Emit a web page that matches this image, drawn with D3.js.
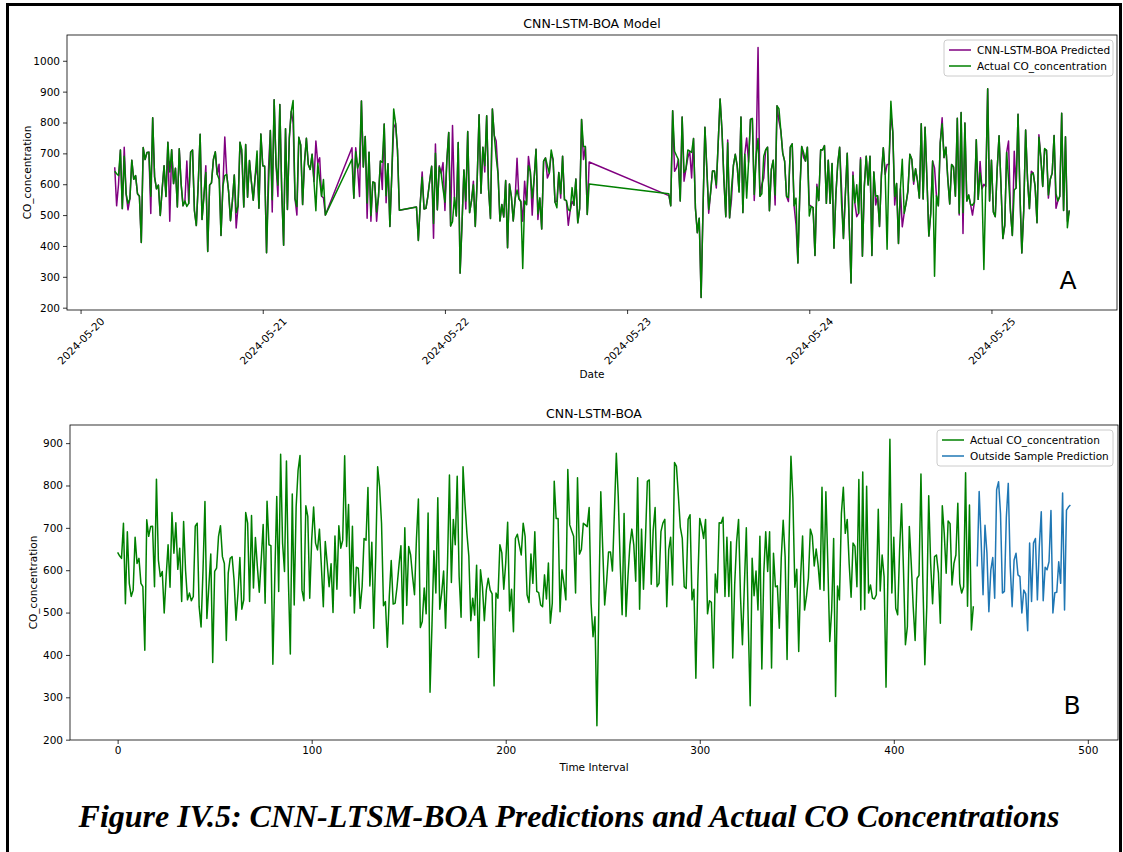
<!DOCTYPE html>
<html>
<head>
<meta charset="utf-8">
<script src="https://cdn.jsdelivr.net/npm/d3@7"></script>
<style>
  body { margin: 0; background: #fff; }
  text { font-family: "DejaVu Sans", sans-serif; fill: #000; }
</style>
</head>
<body>
<script>
// measured CO concentration (one value every 15 minutes)
const actualCO = [
  642,634,628,711,521,691,569,538,553,678, 616,628,569,561,411,719,680,703,704,561,
  815,624,585,597,499,585,660,560,736,640, 712,602,652,526,715,600,530,546,528,538,
  704,711,514,466,600,762,486,561,638,382, 597,605,680,705,632,616,434,593,628,632,577,
  482,545,630,508,530,736,711,526,729,558, 677,609,548,624,708,522,763,660,658,378,
  585,774,550,874,664,597,858,577,402,780, 518,750,836,871,553,528,752,727,534,671,
  749,664,648,697,609,514,668,616,561,615, 500,681,555,705,652,671,870,656,755,539,704,499,
  607,605,510,561,675,671,795,563,666,463, 632,844,797,711,516,526,418,538,623,520,
  522,561,612,658,473,700,517,656,636,585, 542,675,768,465,479,558,497,735,312,471,
  646,546,771,508,546,598,463,616,825,571, 720,660,822,585,489,844,758,687,633,481,534,494,
  612,394,601,561,481,553,581,553,544,327, 546,534,660,641,555,617,713,504,555,455,
  675,685,660,636,711,680,542,524,638,569, 691,550,547,518,514,589,532,617,475,522,
  810,722,722,502,601,569,530,838,707,693, 680,546,818,638,649,711,707,703,748,522,443,490,
  233,520,785,651,518,573,643,643,598,734, 876,774,616,495,734,491,585,660,697,660,
  574,818,508,697,555,671,810,813,567,695, 748,561,569,691,711,720,514,648,678,565,
  854,845,774,701,675,561,557,720,731,530, 555,345,571,722,703,675,720,497,528,524,369,
  591,547,712,711,725,538,678,538,667,393, 565,667,720,538,424,565,700,475,280,628,
  540,598,506,680,367,593,691,597,691,369, 640,561,563,463,628,718,632,389,664,869,
  770,560,602,408,585,681,506,538,581,697, 681,610,650,612,555,796,552,785,616,432,506,675,302,
  563,530,734,796,687,720,616,536,664,656, 561,814,506,832,508,798,546,565,534,532,
  542,744,551,636,585,324,593,909,546,678, 510,495,648,757,600,424,467,703,616,514,
  434,581,588,827,569,377,514,776,616,521, 632,636,593,475,752,687,593,716,710,565,616,636,758,
  569,546,561,830,515,754,459,515
];

// CNN-LSTM-BOA in-sample predictions
const predictedCO = [
  655,530,600,711,521,720,569,517,553,678, 616,628,569,561,411,719,680,703,704,505,
  815,624,585,597,499,585,660,560,736,480, 712,602,652,526,715,600,530,546,675,538,
  704,711,514,466,600,762,486,561,660,382, 597,605,680,705,632,665,434,593,753,632,577,
  482,545,630,458,530,736,690,526,729,558, 677,609,548,624,665,522,763,660,658,378,
  645,774,510,874,664,560,858,577,402,780, 518,750,836,800,553,500,752,727,534,671,
  749,664,648,697,609,740,668,686,561,556, 500,718,555,718,652,560,870,656,755,490,704,480,
  607,605,480,561,675,583,795,540,666,463, 632,782,797,711,516,526,418,538,640,520,
  522,561,612,658,425,730,517,660,636,670, 515,675,768,465,790,558,497,735,312,471,
  646,520,771,508,546,610,463,616,825,571, 720,640,822,585,489,844,758,740,633,481,534,494,
  612,394,601,561,481,553,684,553,544,480, 610,534,690,641,500,617,713,486,555,455,
  675,685,620,636,698,680,542,545,638,555, 691,550,547,467,514,545,532,617,475,522,
  810,680,722,502,672,563,530,838,642,653, 680,546,818,610,649,686,707,620,748,522,443,490,
  233,520,785,651,506,573,643,643,588,734, 876,774,616,495,743,491,550,660,697,660,
  577,818,508,697,750,671,810,813,547,695, 1043,561,600,620,711,720,514,648,678,533,
  854,805,774,701,675,561,544,720,731,530, 469,345,571,722,686,675,720,533,528,524,369,
  600,547,712,711,725,538,678,538,667,393, 565,667,720,588,424,565,700,475,280,640,
  540,495,506,686,367,593,691,600,691,369, 640,533,563,463,628,718,632,664,664,827,
  770,533,602,408,585,462,506,538,577,697, 681,600,650,612,555,796,552,785,616,432,506,675,653,
  563,530,734,815,686,720,616,536,664,656, 561,814,500,832,440,798,546,565,534,500,
  542,744,551,674,585,600,593,909,546,678, 510,495,648,757,600,424,467,703,740,514,
  434,707,588,827,569,377,514,776,616,521, 642,636,593,475,760,687,593,713,710,555,616,636,758,
  522,546,561,830,515,754,480,515
];

// out-of-sample forecast (continues after the last measured interval)
const outsidePrediction = [
  609,786,671,542,706,641,502,600,630,534, 790,809,734,546,550,725,805,609,514,624,
  640,589,585,499,553,544,457,664,526,664, 675,530,656,738,528,607,601,620,741,499,
  547,548,620,569,782,506,742,749,754
];
const forecastStart = 443;

// continuous runs of 15-minute samples (gaps between them have no data)
const segmentStarts = ["2024-05-20T04:30", "2024-05-21T11:45", "2024-05-21T20:15", "2024-05-23T05:30"];
const segmentLengths = [112, 26, 92, 212];

const dateTicks = ["2024-05-20", "2024-05-21", "2024-05-22", "2024-05-23", "2024-05-24", "2024-05-25"];
const yTicksTop = [200, 300, 400, 500, 600, 700, 800, 900, 1000];
const yTicksBottom = [200, 300, 400, 500, 600, 700, 800, 900];
const xTicksBottom = [0, 100, 200, 300, 400, 500];

const smallFont = "10.5px";

function padded(ext) {
  const p = (ext[1] - ext[0]) * 0.05;
  return [ext[0] - p, ext[1] + p];
}

function drawLegend(g, x, y, w, items) {
  g.append("rect")
    .attr("x", x).attr("y", y)
    .attr("width", w).attr("height", 36)
    .attr("rx", 3)
    .attr("fill", "white").attr("fill-opacity", 0.8)
    .attr("stroke", "#cccccc");
  items.forEach((it, i) => {
    const yy = y + 10 + i * 16;
    g.append("line")
      .attr("x1", x + 5).attr("x2", x + 27)
      .attr("y1", yy).attr("y2", yy)
      .attr("stroke", it.color).attr("stroke-width", 1.5);
    g.append("text")
      .attr("x", x + 33).attr("y", yy)
      .attr("dy", "0.35em")
      .style("font-size", smallFont)
      .text(it.label);
  });
}

function drawCharts() {
  const svg = d3.select("body").append("svg")
    .attr("width", 1123)
    .attr("height", 852);

  svg.append("rect").attr("width", 1123).attr("height", 852).attr("fill", "white");

  // page frame
  svg.append("path")
    .attr("d", "M7.5,852 V4.5 H1120.5 V852")
    .attr("fill", "none")
    .attr("stroke", "black")
    .attr("stroke-width", 3);

  // ---------- A: CNN-LSTM-BOA Model vs date ----------
  const A = { left: 67, right: 1117, top: 35, bottom: 310 };

  const times = [];
  segmentStarts.forEach((s, k) => {
    const t0 = new Date(s + ":00Z");
    for (let i = 0; i < segmentLengths[k]; i++) times.push(new Date(t0.getTime() + i * 15 * 60000));
  });

  const tExt = padded([times[0].getTime(), times[times.length - 1].getTime()]);
  const xTime = d3.scaleUtc()
    .domain([new Date(tExt[0]), new Date(tExt[1])])
    .range([A.left, A.right]);

  const allTop = actualCO.concat(predictedCO);
  const yTop = d3.scaleLinear()
    .domain(padded([d3.min(allTop), d3.max(allTop)]))
    .range([A.bottom, A.top]);

  const gA = svg.append("g");

  const lineTime = d3.line()
    .x((d, i) => xTime(times[i]))
    .y(d => yTop(d));

  gA.append("path")
    .datum(predictedCO)
    .attr("d", lineTime)
    .attr("fill", "none")
    .attr("stroke", "purple")
    .attr("stroke-width", 1.5)
    .attr("stroke-linejoin", "round");

  gA.append("path")
    .datum(actualCO)
    .attr("d", lineTime)
    .attr("fill", "none")
    .attr("stroke", "green")
    .attr("stroke-width", 1.5)
    .attr("stroke-linejoin", "round");

  const xAxisA = gA.append("g")
    .attr("transform", `translate(0,${A.bottom})`)
    .call(d3.axisBottom(xTime)
      .tickValues(dateTicks.map(s => new Date(s + "T00:00:00Z")))
      .tickFormat(d3.utcFormat("%Y-%m-%d"))
      .tickSizeOuter(0).tickSize(4));
  xAxisA.selectAll("text")
    .style("font-size", smallFont)
    .attr("text-anchor", "middle")
    .attr("dy", "0.35em")
    .attr("y", 0)
    .attr("transform", "translate(0,31) rotate(-45)");

  gA.append("g")
    .attr("transform", `translate(${A.left},0)`)
    .call(d3.axisLeft(yTop).tickValues(yTicksTop).tickFormat(d3.format("d")).tickSizeOuter(0).tickSize(4))
    .selectAll("text").style("font-size", smallFont);

  gA.selectAll(".domain").remove();
  gA.selectAll(".tick line").attr("stroke", "black").attr("stroke-width", 0.8);

  gA.append("rect")
    .attr("x", A.left).attr("y", A.top)
    .attr("width", A.right - A.left).attr("height", A.bottom - A.top)
    .attr("fill", "none").attr("stroke", "black").attr("stroke-width", 0.8);

  gA.append("text")
    .attr("x", (A.left + A.right) / 2).attr("y", A.top - 7)
    .attr("text-anchor", "middle")
    .style("font-size", "12.5px")
    .text("CNN-LSTM-BOA Model");

  gA.append("text")
    .attr("x", (A.left + A.right) / 2).attr("y", 378)
    .attr("text-anchor", "middle")
    .style("font-size", smallFont)
    .text("Date");

  gA.append("text")
    .attr("transform", `translate(31,${(A.top + A.bottom) / 2}) rotate(-90)`)
    .attr("text-anchor", "middle")
    .style("font-size", smallFont)
    .text("CO_concentration");

  drawLegend(gA, 944, 40, 169, [
    { label: "CNN-LSTM-BOA Predicted", color: "purple" },
    { label: "Actual CO_concentration", color: "green" }
  ]);

  gA.append("text")
    .attr("x", 1068).attr("y", 289)
    .attr("text-anchor", "middle")
    .style("font-size", "25px")
    .text("A");

  // ---------- B: CNN-LSTM-BOA vs time interval ----------
  const B = { left: 70, right: 1118, top: 425, bottom: 740 };
  const lastIndex = forecastStart + outsidePrediction.length - 1;

  const xIdx = d3.scaleLinear()
    .domain(padded([0, lastIndex]))
    .range([B.left, B.right]);

  const allBot = actualCO.concat(outsidePrediction);
  const yBot = d3.scaleLinear()
    .domain(padded([d3.min(allBot), d3.max(allBot)]))
    .range([B.bottom, B.top]);

  const gB = svg.append("g");

  gB.append("path")
    .datum(actualCO)
    .attr("d", d3.line().x((d, i) => xIdx(i)).y(d => yBot(d)))
    .attr("fill", "none")
    .attr("stroke", "green")
    .attr("stroke-width", 1.5)
    .attr("stroke-linejoin", "round");

  gB.append("path")
    .datum(outsidePrediction)
    .attr("d", d3.line().x((d, i) => xIdx(forecastStart + i)).y(d => yBot(d)))
    .attr("fill", "none")
    .attr("stroke", "#1f77b4")
    .attr("stroke-width", 1.5)
    .attr("stroke-linejoin", "round");

  gB.append("g")
    .attr("transform", `translate(0,${B.bottom})`)
    .call(d3.axisBottom(xIdx).tickValues(xTicksBottom).tickSizeOuter(0).tickSize(4))
    .selectAll("text").style("font-size", smallFont);

  gB.append("g")
    .attr("transform", `translate(${B.left},0)`)
    .call(d3.axisLeft(yBot).tickValues(yTicksBottom).tickSizeOuter(0).tickSize(4))
    .selectAll("text").style("font-size", smallFont);

  gB.selectAll(".domain").remove();
  gB.selectAll(".tick line").attr("stroke", "black").attr("stroke-width", 0.8);

  gB.append("rect")
    .attr("x", B.left).attr("y", B.top)
    .attr("width", B.right - B.left).attr("height", B.bottom - B.top)
    .attr("fill", "none").attr("stroke", "black").attr("stroke-width", 0.8);

  gB.append("text")
    .attr("x", (B.left + B.right) / 2).attr("y", B.top - 7)
    .attr("text-anchor", "middle")
    .style("font-size", "12.5px")
    .text("CNN-LSTM-BOA");

  gB.append("text")
    .attr("x", (B.left + B.right) / 2).attr("y", 771)
    .attr("text-anchor", "middle")
    .style("font-size", smallFont)
    .text("Time Interval");

  gB.append("text")
    .attr("transform", `translate(37,${(B.top + B.bottom) / 2}) rotate(-90)`)
    .attr("text-anchor", "middle")
    .style("font-size", smallFont)
    .text("CO_concentration");

  drawLegend(gB, 937, 430, 176, [
    { label: "Actual CO_concentration", color: "green" },
    { label: "Outside Sample Prediction", color: "#1f77b4" }
  ]);

  gB.append("text")
    .attr("x", 1072).attr("y", 714)
    .attr("text-anchor", "middle")
    .style("font-size", "25px")
    .text("B");

  // caption
  svg.append("text")
    .attr("x", 569).attr("y", 827)
    .attr("text-anchor", "middle")
    .style("font-family", "'Liberation Serif', 'Times New Roman', serif")
    .style("font-size", "32px")
    .style("font-weight", "bold")
    .style("font-style", "italic")
    .text("Figure IV.5: CNN-LTSM-BOA Predictions and Actual CO Concentrations");
}

drawCharts();
</script>
</body>
</html>
